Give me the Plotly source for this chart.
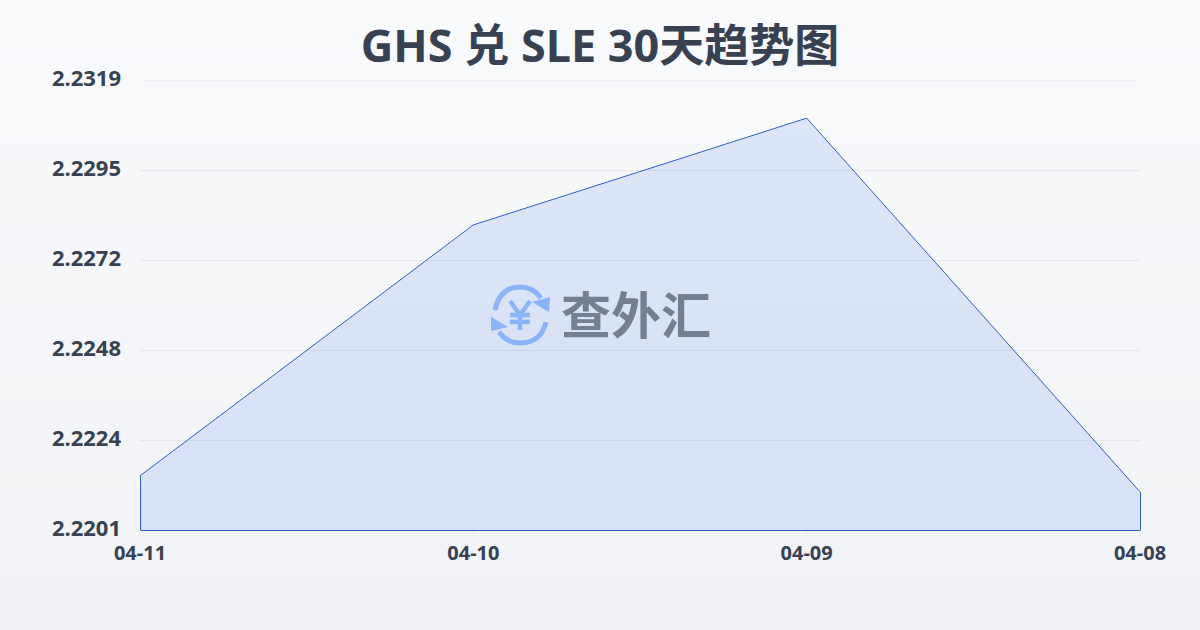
import plotly.graph_objects as go

# values
dates = ['04-11', '04-10', '04-09', '04-08']
rates = [2.22152, 2.2281, 2.2309, 2.2211]
y_ticks = [2.2201, 2.22246, 2.22482, 2.22718, 2.22954, 2.2319]
y_labels = ['2.2201', '2.2224', '2.2248', '2.2272', '2.2295', '2.2319']
y_min = 2.2201
y_max = 2.2319
bg_top = (248, 250, 252)
bg_bottom = (241, 243, 246)

W, H = 1200, 630
LEFT, RIGHT, TOP, BOTTOM = 140, 1140, 80, 530
LOGO_BLUE = '#8ab4f8'
LINE_BLUE = '#2f5fc4'


## pixel position to paper coordinates, only used for background and logo
def px(x):
    return (x - LEFT) / (RIGHT - LEFT)


def py(y):
    return (BOTTOM - y) / (BOTTOM - TOP)


def path(points, close=False):
    s = 'M ' + ' L '.join(f'{px(a):.5f},{py(b):.5f}' for a, b in points)
    return s + (' Z' if close else '')


def arc(start, ctrl, end):
    return (f'M {px(start[0]):.5f},{py(start[1]):.5f} '
            f'Q {px(ctrl[0]):.5f},{py(ctrl[1]):.5f} {px(end[0]):.5f},{py(end[1]):.5f}')


shapes = []
# page background gradient as thin strips
steps = 63
for i in range(steps):
    t = i / (steps - 1)
    c = [round(bg_top[k] + (bg_bottom[k] - bg_top[k]) * t) for k in range(3)]
    shapes.append(dict(type='rect', xref='paper', yref='paper', layer='below',
                       x0=px(0), x1=px(W), y0=py(i * H / steps), y1=py((i + 1) * H / steps),
                       fillcolor=f'rgb({c[0]},{c[1]},{c[2]})', line_width=0))

# plotly drops the gridline on the top edge of the range
shapes.append(dict(type='line', xref='paper', yref='y', layer='below', x0=0, x1=1,
                   y0=y_ticks[-1], y1=y_ticks[-1], line=dict(color='#e5e7eb', width=1)))

# sides and bottom of the area, half a pixel in so they stay crisp
edge = dict(color=LINE_BLUE, width=1)
shapes.append(dict(type='line', xref='paper', yref='y', x0=px(140.5), x1=px(140.5),
                   y0=y_min, y1=rates[0], line=edge))
shapes.append(dict(type='line', xref='paper', yref='y', x0=px(1140.5), x1=px(1140.5),
                   y0=y_min, y1=rates[-1], line=edge))
shapes.append(dict(type='line', xref='paper', yref='paper', x0=px(140.5), x1=px(1140.5),
                   y0=py(530.5), y1=py(530.5), line=edge))

# logo: two arrows round the yen sign
logo_line = dict(color=LOGO_BLUE, width=5)
for start, ctrl, end in [((495, 310), (500, 287), (520, 287)),
                         ((520, 287), (533, 287), (541, 298)),
                         ((546, 322), (541, 343), (520, 343)),
                         ((520, 343), (507, 343), (499, 332))]:
    shapes.append(dict(type='path', xref='paper', yref='paper', line=logo_line,
                       path=arc(start, ctrl, end)))
shapes.append(dict(type='path', xref='paper', yref='paper', fillcolor=LOGO_BLUE, line_width=0,
                   path=path([(532, 302), (550, 297), (549, 312)], close=True)))
shapes.append(dict(type='path', xref='paper', yref='paper', fillcolor=LOGO_BLUE, line_width=0,
                   path=path([(491, 317), (491, 331), (508, 327)], close=True)))
# yen sign of the logo
yen_line = dict(color=LOGO_BLUE, width=4.5)
for stroke in [[(510, 301), (520, 315), (530, 301)],
               [(520, 315), (520, 330)],
               [(510, 315), (530, 315)],
               [(510, 322), (530, 322)]]:
    shapes.append(dict(type='path', xref='paper', yref='paper', line=yen_line, path=path(stroke)))

fig = go.Figure()
idx = list(range(len(dates)))
# fill down to the axis minimum on both ends
fig.add_trace(go.Scatter(
    x=[idx[0]] + idx + [idx[-1]],
    y=[y_min] + rates + [y_min],
    mode='lines',
    fill='toself',
    fillcolor='rgba(37,99,235,0.125)',
    line=dict(width=0),
    hoverinfo='skip',
    showlegend=False))
fig.add_trace(go.Scatter(
    x=idx, y=rates,
    mode='lines',
    line=dict(color=LINE_BLUE, width=1),
    cliponaxis=False,
    hoverinfo='skip',
    showlegend=False))

fig.update_layout(
    width=W, height=H,
    autosize=False,
    margin=dict(l=LEFT, r=W - RIGHT, t=TOP, b=H - BOTTOM),
    paper_bgcolor='#f6f8fa',
    plot_bgcolor='rgba(0,0,0,0)',
    shapes=shapes,
    font=dict(family='Noto Sans, Noto Sans CJK SC', color='#374151'),
    title=dict(text='<b>GHS 兑 SLE 30天趋势图</b>', x=0.5, xanchor='center', xref='container',
               y=1 - 46 / H, yanchor='middle',
               font=dict(family='Noto Sans, Noto Sans CJK SC', size=45, color='#374151')),
    xaxis=dict(range=[idx[0], idx[-1]], tickvals=idx, ticktext=[f'<b>{d}</b>' for d in dates],
               tickfont=dict(size=20), showgrid=False, zeroline=False,
               ticks='outside', ticklen=5, tickcolor='#e5e7eb', tickwidth=1, showline=False),
    yaxis=dict(range=[y_min, y_max], tickvals=y_ticks, ticktext=[f'<b>{v}</b>' for v in y_labels],
               tickfont=dict(size=22), showgrid=True, gridcolor='#e5e7eb', gridwidth=1,
               zeroline=False, showline=False, ticks='', ticklabelstandoff=18, ticklabelshift=-2),
)

# watermark text
fig.add_annotation(xref='paper', yref='paper', x=px(636), y=py(312), text='<b>查外汇</b>', showarrow=False,
                   font=dict(family='Noto Sans CJK SC', size=50, color='#767f90'))

# the page has a default body margin, drop it so the figure fills the window
fig.write_html("out.html", config=dict(displayModeBar=False),
               post_script="document.body.style.margin='0';document.documentElement.style.overflow='hidden';")
